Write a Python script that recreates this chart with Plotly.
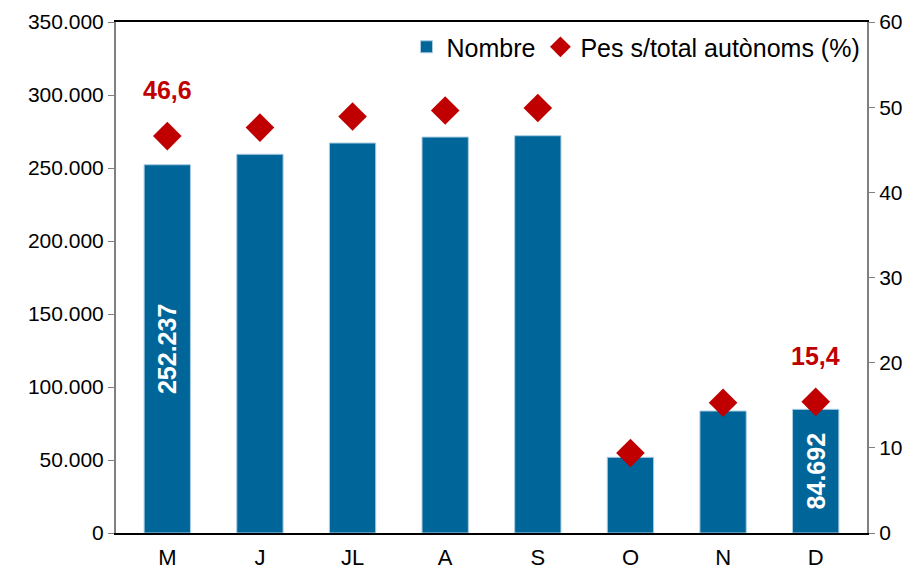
import plotly.graph_objects as go

months = ["M", "J", "JL", "A", "S", "O", "N", "D"]
nombre = [252237, 259400, 267100, 271200, 272100, 51850, 83560, 84692]
pes = [46.6, 47.6, 48.9, 49.6, 49.9, 9.4, 15.3, 15.4]
bar_labels = ["252.237", "", "", "", "", "", "", "84.692"]
pes_labels = ["46,6", "", "", "", "", "", "", "15,4"]

FONT = "Liberation Sans, Arial, sans-serif"
BLUE = "#006699"
RED = "#C00000"

fig = go.Figure()
fig.add_trace(go.Bar(
    x=months, y=nombre, name="Nombre",
    marker=dict(color=BLUE, line=dict(color="#A9CCE3", width=1)),
    text=bar_labels, textposition="inside", insidetextanchor="middle",
    textangle=-90, constraintext="none",
    textfont=dict(family=FONT, size=25, color="white", weight="bold"),
    yaxis="y",
))
fig.add_trace(go.Scatter(
    x=months, y=pes, name="Pes s/total autònoms (%)", mode="markers",
    marker=dict(symbol="diamond", size=22, color=RED),
    yaxis="y2",
))

annotations = []
for m, v, lab in zip(months, pes, pes_labels):
    if lab:
        annotations.append(dict(
            x=m, y=v, xref="x", yref="y2", text=lab, showarrow=False,
            yshift=46, font=dict(family=FONT, size=25, color=RED, weight="bold"),
        ))

fig.update_layout(
    width=917, height=574,
    margin=dict(l=116, r=50, t=22, b=41),
    paper_bgcolor="white", plot_bgcolor="white",
    separators=",.",
    font=dict(family=FONT, size=21, color="black"),
    bargap=0.5,
    showlegend=True,
    legend=dict(orientation="h", x=0.998, xanchor="right", y=0.951, yanchor="middle",
                font=dict(size=25), bgcolor="rgba(0,0,0,0)", itemwidth=30,
                tracegroupgap=0),
    xaxis=dict(showline=True, linecolor="black", linewidth=2, mirror=True,
               ticks="", showgrid=False, tickfont=dict(size=22),
               automargin=False, ticklabelstandoff=4),
    yaxis=dict(range=[0, 350000], dtick=50000, tickformat=",d",
               showline=True, linecolor="#808080", linewidth=2,
               ticks="outside", tickcolor="#808080", ticklen=6,
               showgrid=False, zeroline=False, tickfont=dict(size=21),
               automargin=False),
    yaxis2=dict(range=[0, 60], dtick=10, overlaying="y", side="right",
                showline=True, linecolor="#808080", linewidth=2,
                ticks="outside", tickcolor="#808080", ticklen=6,
                showgrid=False, zeroline=False, tickfont=dict(size=21),
                automargin=False),
    annotations=annotations,
)

fig.write_html("out.html", config={"displayModeBar": False},
               post_script="document.body.style.margin='0';document.body.style.overflow='hidden';")
